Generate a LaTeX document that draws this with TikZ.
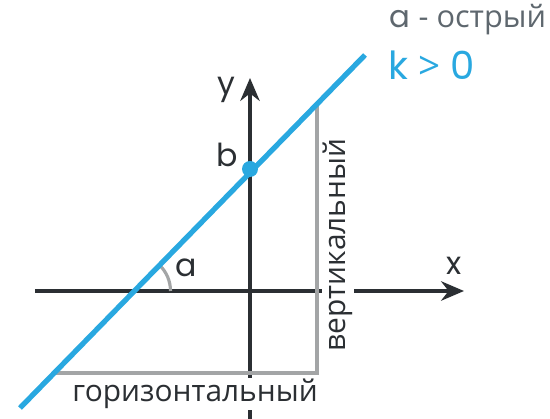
\documentclass[tikz,border=0pt]{standalone}
\usepackage{fontspec}
\setmainfont{Open Sans}
\newfontfamily\latfont{Poppins}
\usetikzlibrary{arrows.meta}
\definecolor{lineblue}{HTML}{29A8E0}
\definecolor{axisdark}{HTML}{2B2F33}
\definecolor{helpgrey}{HTML}{A3A5A6}
\definecolor{textgrey}{HTML}{5E676E}
\tikzset{
	axis/.style={draw=axisdark, line width=2.2pt, -{Stealth[length=13pt, width=11pt]}},
	helper/.style={draw=helpgrey, line width=1.8pt},
	graphline/.style={draw=lineblue, line width=3pt},
	lbl/.style={text=axisdark, font=\latfont\fontsize{18}{18}\selectfont, inner sep=1pt},
	word/.style={text=axisdark, fill=white, font=\fontsize{17}{17}\selectfont, inner sep=0.5pt}
}
\begin{document}
\begin{tikzpicture}
		\useasboundingbox (-5, -2.56) rectangle (6, 5.82);
		\coordinate (xstart) at (-4.3, 0);
		\coordinate (xend) at (4.28, 0);
		\coordinate (ystart) at (0, -2.6);
		\coordinate (yend) at (0, 4.26);
		\coordinate (lstart) at (-4.6, -2.34);
		\coordinate (lend) at (2.3, 4.72);
		\coordinate (hcorner) at (-3.92, -1.64);
		\coordinate (vcorner) at (1.34, -1.64);
		\coordinate (vtop) at (1.34, 3.74);
		\coordinate (root) at (-2.31, 0);
		\draw[axis] (xstart) -- (xend);
		\draw[axis] (ystart) -- (yend);
		\draw[helper] (hcorner) -- (vcorner) -- (vtop);
		\draw[helper] ([shift={(0.72, 0)}]root) arc (0:45.6:0.72);
		\node[word] (horiz) at (-1.1, -2.06) {горизонтальный};
		\node[word, rotate=90] (vert) at (1.76, 0.92) {вертикальный};
		\draw[graphline] (lstart) -- (lend);
		\fill[lineblue] (0, 2.44) circle (0.16);
		\node[lbl] (alpha) at (-1.28, 0.46) {a};
		\node[lbl] (ylab) at (-0.48, 4.02) {y};
		\node[lbl] (blab) at (-0.46, 2.72) {b};
		\node[lbl] (xlab) at (4.08, 0.5) {x};
		\node[text=textgrey, font=\fontsize{17.5}{17.5}\selectfont] (acute) at (4.36, 5.42) {{\latfont a} - острый};
		\node[text=lineblue, font=\fontsize{22}{22}\selectfont] (kpos) at (3.64, 4.52) {{\latfont k} > {\latfont 0}};
	\end{tikzpicture}
\end{document}
